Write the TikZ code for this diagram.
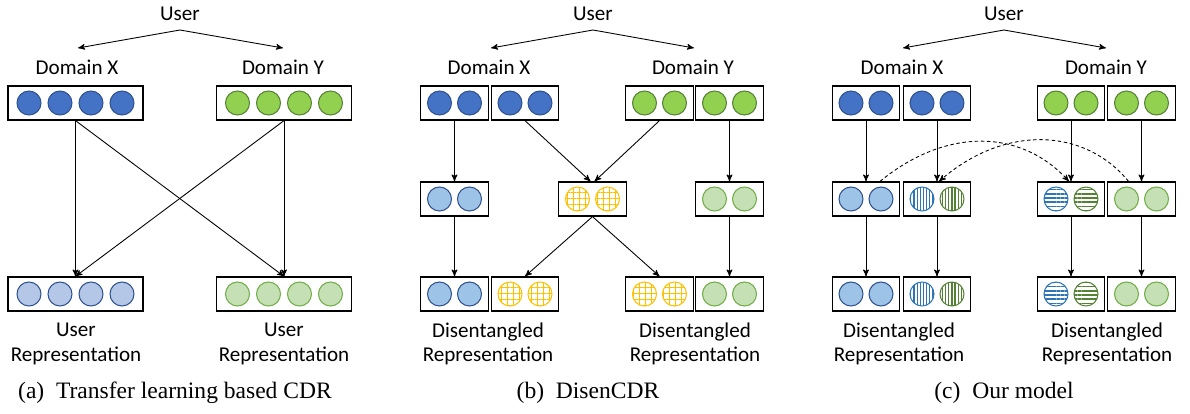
\documentclass[tikz,border=0pt]{standalone}
\usepackage{fontspec}
\setmainfont{Carlito}
\newfontfamily\CapFont{Liberation Serif}
\usepackage{tikz}
\usetikzlibrary{calc,arrows,patterns.meta}
\definecolor{dblue}{HTML}{4472C4}
\definecolor{dblueline}{HTML}{2F528F}
\definecolor{lblue}{HTML}{9DC3E6}
\definecolor{pblue}{HTML}{B4C7E7}
\definecolor{sblue}{HTML}{2E75B6}
\definecolor{dgreen}{HTML}{92D050}
\definecolor{dgreenline}{HTML}{548235}
\definecolor{lgreen}{HTML}{C5E0B4}
\definecolor{lgreenline}{HTML}{70AD47}
\definecolor{gold}{HTML}{FFC000}
\tikzset{
  vecfour/.style={draw, line width=0.7pt, minimum width=2.7cm, minimum height=0.68cm, inner sep=0pt},
  vectwo/.style={draw, line width=0.7pt, minimum width=1.35cm, minimum height=0.68cm, inner sep=0pt},
  dot/.style={circle, line width=0.6pt, minimum size=0.48cm, inner sep=0pt},
  xfull/.style={dot, draw=dblueline, fill=dblue},
  yfull/.style={dot, draw=dgreenline, fill=dgreen},
  xpale/.style={dot, draw=dblueline, fill=pblue},
  xlight/.style={dot, draw=dblueline, fill=lblue},
  ylight/.style={dot, draw=lgreenline, fill=lgreen},
  shared/.style={dot, draw=gold, pattern={Hatch[distance=3.4pt, line width=0.35pt]}, pattern color=gold},
  xvert/.style={dot, draw=sblue, pattern={Lines[angle=90, distance=1.8pt, line width=0.7pt]}, pattern color=sblue},
  yvert/.style={dot, draw=dgreenline, pattern={Lines[angle=90, distance=1.8pt, line width=0.7pt]}, pattern color=dgreenline},
  xhori/.style={dot, draw=sblue, pattern={Lines[angle=0, distance=2.4pt, line width=0.9pt]}, pattern color=sblue},
  yhori/.style={dot, draw=dgreenline, pattern={Lines[angle=0, distance=2.4pt, line width=0.9pt]}, pattern color=dgreenline},
  lbl/.style={font=\fontsize{12}{14}\selectfont, inner sep=0pt},
  subcap/.style={font=\CapFont\fontsize{13.4}{16}\selectfont, inner sep=0pt},
  swap/.style={->, line width=0.5pt, dash pattern=on 2pt off 1.5pt},
}
% two dots inside a small box
\newcommand{\PairDots}[3]{%
  \node[#2] (#1-l) at ($(#1)+(-15,0)$) {};
  \node[#3] (#1-r) at ($(#1)+(15,0)$) {};}
% four dots inside a long box
\newcommand{\FourDots}[2]{%
  \foreach \i/\dx in {1/-46.5,2/-15.5,3/15.5,4/46.5}
    \node[#2] (#1-\i) at ($(#1)+(\dx,0)$) {};}

\begin{document}
\begin{tikzpicture}[x=0.02cm, y=-0.02cm, >=stealth', line width=0.5pt]
  \useasboundingbox (0,0) rectangle (1190,413);

  % (a) transfer learning
  \node[lbl] (ua) at (180,14) {User};
  \coordinate (uat) at (180,30);
  \node[lbl] (dxa) at (77,67) {Domain X};
  \node[lbl] (dya) at (283,67) {Domain Y};
  \draw[->] (uat) -- (78,48);
  \draw[->] (uat) -- (283,48);
  \node[vecfour] (xa) at (75.5,103) {};
  \node[vecfour] (ya) at (284,103) {};
  \node[vecfour] (rxa) at (75.5,294) {};
  \node[vecfour] (rya) at (284,294) {};
  \FourDots{xa}{xfull}
  \FourDots{ya}{yfull}
  \FourDots{rxa}{xpale}
  \FourDots{rya}{ylight}
  \draw[->] (xa.south) -- (rxa.north);
  \draw[->] (xa.south) -- (rya.north);
  \draw[->] (ya.south) -- (rya.north);
  \draw[->] (ya.south) -- (rxa.north);
  \node[lbl, align=center] (rxat) at (76,344) {User\\Representation};
  \node[lbl, align=center] (ryat) at (284,344) {User\\Representation};
  \node[subcap] (capa) at (175,393) {(a)\enspace Transfer learning based CDR};

  % (b) DisenCDR
  \node[lbl] (ub) at (593,14) {User};
  \coordinate (ubt) at (593,30);
  \node[lbl] (dxb) at (489,67) {Domain X};
  \node[lbl] (dyb) at (693,67) {Domain Y};
  \draw[->] (ubt) -- (491,48);
  \draw[->] (ubt) -- (694,48);
  \node[vectwo] (xb1) at (454.5,103) {};
  \node[vectwo] (xb2) at (525,103) {};
  \node[vectwo] (yb1) at (659.5,103) {};
  \node[vectwo] (yb2) at (729.5,103) {};
  \node[vectwo] (mxb) at (454.5,199) {};
  \node[vectwo] (msb) at (592.5,199) {};
  \node[vectwo] (myb) at (729.5,199) {};
  \node[vectwo] (rxb1) at (454.5,294) {};
  \node[vectwo] (rxb2) at (525,294) {};
  \node[vectwo] (ryb1) at (659.5,294) {};
  \node[vectwo] (ryb2) at (729.5,294) {};
  \PairDots{xb1}{xfull}{xfull}
  \PairDots{xb2}{xfull}{xfull}
  \PairDots{yb1}{yfull}{yfull}
  \PairDots{yb2}{yfull}{yfull}
  \PairDots{mxb}{xlight}{xlight}
  \PairDots{msb}{shared}{shared}
  \PairDots{myb}{ylight}{ylight}
  \PairDots{rxb1}{xlight}{xlight}
  \PairDots{rxb2}{shared}{shared}
  \PairDots{ryb1}{shared}{shared}
  \PairDots{ryb2}{ylight}{ylight}
  \draw[->] (xb1.south) -- (mxb.north);
  \draw[->] (xb2.south) -- ($(msb.north)+(-2,0)$);
  \draw[->] (yb1.south) -- ($(msb.north)+(2,0)$);
  \draw[->] (yb2.south) -- (myb.north);
  \draw[->] (mxb.south) -- (rxb1.north);
  \draw[->] (msb.south) -- (rxb2.north);
  \draw[->] (msb.south) -- (ryb1.north);
  \draw[->] (myb.south) -- (ryb2.north);
  \node[lbl, align=center] (rxbt) at (488,344) {Disentangled\\Representation};
  \node[lbl, align=center] (rybt) at (695,344) {Disentangled\\Representation};
  \node[subcap] (capb) at (588,393) {(b)\enspace DisenCDR};

  % (c) our model
  \node[lbl] (uc) at (1004,14) {User};
  \coordinate (uct) at (1004,30);
  \node[lbl] (dxc) at (902,67) {Domain X};
  \node[lbl] (dyc) at (1106,67) {Domain Y};
  \draw[->] (uct) -- (903,48);
  \draw[->] (uct) -- (1106,48);
  \foreach \row/\yy in {x/103,m/199,r/294} {
    \node[vectwo] (\row c1) at (866,\yy) {};
    \node[vectwo] (\row c2) at (937,\yy) {};
    \node[vectwo] (\row c3) at (1071,\yy) {};
    \node[vectwo] (\row c4) at (1141.5,\yy) {};
  }
  \PairDots{xc1}{xfull}{xfull}
  \PairDots{xc2}{xfull}{xfull}
  \PairDots{xc3}{yfull}{yfull}
  \PairDots{xc4}{yfull}{yfull}
  \PairDots{mc1}{xlight}{xlight}
  \PairDots{mc2}{xvert}{yvert}
  \PairDots{mc3}{xhori}{yhori}
  \PairDots{mc4}{ylight}{ylight}
  \PairDots{rc1}{xlight}{xlight}
  \PairDots{rc2}{xvert}{yvert}
  \PairDots{rc3}{xhori}{yhori}
  \PairDots{rc4}{ylight}{ylight}
  \foreach \k in {1,2,3,4} {
    \draw[->] (xc\k.south) -- (mc\k.north);
    \draw[->] (mc\k.south) -- (rc\k.north);
  }
  \draw[swap] ($(mc1.north)+(14,0)$) .. controls (945,128) and (1020,128) .. ($(mc3.north)+(-2,0)$);
  \draw[swap] ($(mc4.north)+(-13,0)$) .. controls (1085,128) and (1005,124) .. ($(mc2.north)+(2,0)$);
  \node[lbl, align=center] (rxct) at (899,344) {Disentangled\\Representation};
  \node[lbl, align=center] (ryct) at (1107,344) {Disentangled\\Representation};
  \node[subcap] (capc) at (1004,393) {(c)\enspace Our model};
\end{tikzpicture}
\end{document}
